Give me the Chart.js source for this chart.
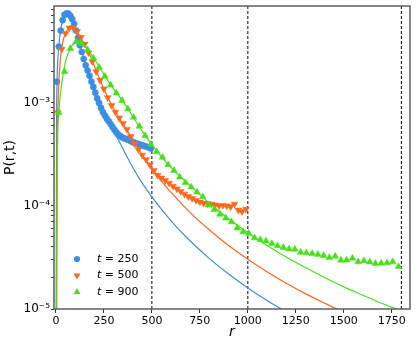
<!DOCTYPE html>
<html>
<head>
<meta charset="utf-8">
<script src="https://cdn.jsdelivr.net/npm/chart.js@4.4.1/dist/chart.umd.min.js"></script>
<style>
  html, body { margin: 0; padding: 0; background: #fff; }
  canvas { display: block; }
</style>
</head>
<body>
<canvas id="chart" width="417" height="349"></canvas>
<script>
"use strict";

// measured points, t = 250
const markR250 = [5, 15, 25, 35, 45, 55, 65, 75, 85, 95, 105, 115, 125, 135, 145, 155, 165, 175, 185, 195,
    205, 215, 225, 235, 245, 255, 265, 275, 285, 295, 305, 315, 325, 335, 345, 355, 365, 375, 385, 395,
    405, 415, 425, 435, 445, 455, 465, 475, 485, 495];
const markP250 = [1.6e-3, 3.5e-3, 5.0e-3, 6.3e-3, 7.1e-3, 7.35e-3, 7.3e-3, 6.95e-3, 6.45e-3, 5.8e-3,
    5.0e-3, 4.25e-3, 3.6e-3, 3.1e-3, 2.65e-3, 2.3e-3, 2.05e-3, 1.82e-3, 1.6e-3, 1.42e-3,
    1.25e-3, 1.1e-3, 9.9e-4, 8.9e-4, 8.1e-4, 7.5e-4, 7.0e-4, 6.6e-4, 6.2e-4, 5.8e-4,
    5.45e-4, 5.15e-4, 4.9e-4, 4.75e-4, 4.62e-4, 4.52e-4, 4.45e-4, 4.38e-4, 4.3e-4, 4.2e-4,
    4.12e-4, 4.05e-4, 4.0e-4, 3.94e-4, 3.88e-4, 3.83e-4, 3.78e-4, 3.73e-4, 3.68e-4, 3.6e-4];

// measured points, t = 500
const markR500 = [10, 30, 50, 70, 90, 110, 130, 150, 170, 190, 210, 230, 250, 270, 290, 310, 330, 350, 370, 390,
    410, 430, 450, 470, 490, 510, 530, 550, 570, 590, 610, 630, 650, 670, 690, 710, 730, 750, 770, 790,
    810, 830, 850, 870, 890, 910, 930, 950, 970, 990];
const markP500 = [8e-4, 3.3e-3, 4.7e-3, 5.3e-3, 5.35e-3, 4.9e-3, 4.3e-3, 3.7e-3, 3.05e-3, 2.5e-3,
    2.0e-3, 1.65e-3, 1.36e-3, 1.12e-3, 9.4e-4, 8.1e-4, 7.1e-4, 6.3e-4, 5.5e-4, 4.7e-4,
    4.0e-4, 3.5e-4, 3.1e-4, 2.8e-4, 2.5e-4, 2.2e-4, 1.98e-4, 1.86e-4, 1.76e-4, 1.66e-4,
    1.55e-4, 1.46e-4, 1.38e-4, 1.3e-4, 1.23e-4, 1.18e-4, 1.13e-4, 1.09e-4, 1.06e-4, 1.05e-4,
    1.04e-4, 1.02e-4, 1.0e-4, 1.01e-4, 1.0e-4, 9.8e-5, 1.04e-4, 9.1e-5, 8.8e-5, 9.3e-5];

// measured points, t = 900
const markR900 = [15, 45, 75, 105, 135, 165, 195, 225, 255, 285, 315, 345, 375, 405, 435, 465, 495, 525, 555, 585,
    615, 645, 675, 705, 735, 765, 795, 825, 855, 885, 915, 945, 975, 1005, 1035, 1065, 1095, 1125, 1155, 1185,
    1215, 1245, 1275, 1305, 1335, 1365, 1395, 1425, 1455, 1485, 1515, 1545, 1575, 1605, 1635, 1665, 1695, 1725, 1755, 1785];
const markP900 = [8.0e-4, 2.0e-3, 3.35e-3, 3.9e-3, 3.75e-3, 3.25e-3, 2.7e-3, 2.2e-3, 1.8e-3, 1.48e-3,
    1.24e-3, 1.05e-3, 8.7e-4, 7.2e-4, 5.9e-4, 4.8e-4, 3.95e-4, 3.35e-4, 2.95e-4, 2.5e-4,
    2.2e-4, 1.9e-4, 1.68e-4, 1.52e-4, 1.36e-4, 1.22e-4, 1.02e-4, 9.2e-5, 8.3e-5, 7.6e-5,
    7.0e-5, 6.1e-5, 5.6e-5, 5.4e-5, 4.9e-5, 4.7e-5, 4.55e-5, 4.3e-5, 4.1e-5, 3.95e-5,
    3.82e-5, 3.8e-5, 3.55e-5, 3.5e-5, 3.45e-5, 3.38e-5, 3.3e-5, 3.15e-5, 3.25e-5, 2.97e-5,
    2.98e-5, 3.1e-5, 2.87e-5, 2.93e-5, 2.85e-5, 2.76e-5, 2.78e-5, 2.8e-5, 2.86e-5, 2.58e-5];

// fitted curves
const fitR250 = [1, 3, 6, 12, 20, 30, 42, 55, 70, 85, 100, 120, 140, 160, 180, 200, 230, 260, 280, 300,
    330, 360, 400, 450, 500, 600, 700, 800, 900, 1000, 1100, 1200, 1300];
const fitP250 = [1e-6, 4e-4, 1.6e-3, 3.0e-3, 4.3e-3, 5.7e-3, 6.9e-3, 7.35e-3, 7.1e-3, 6.4e-3,
    5.4e-3, 4.0e-3, 2.9e-3, 2.2e-3, 1.72e-3, 1.35e-3, 9.8e-4, 7.5e-4, 6.34e-4, 5.37e-4,
    4.19e-4, 3.27e-4, 2.37e-4, 1.66e-4, 1.22e-4, 7.16e-5, 4.56e-5, 3.08e-5, 2.18e-5, 1.6e-5,
    1.21e-5, 9.4e-6, 7.4e-6];
const fitR500 = [1, 5, 10, 20, 35, 55, 75, 95, 120, 150, 180, 210, 250, 300, 350, 400, 450, 500, 550, 600,
    700, 800, 900, 1000, 1100, 1200, 1300, 1400, 1500, 1600];
const fitP500 = [1e-6, 2e-4, 8e-4, 2.2e-3, 3.8e-3, 4.9e-3, 5.35e-3, 5.3e-3, 4.6e-3, 3.65e-3,
    2.8e-3, 2.05e-3, 1.36e-3, 8.8e-4, 6.2e-4, 4.4e-4, 3.13e-4, 2.3e-4, 1.74e-4, 1.35e-4,
    8.6e-5, 5.83e-5, 4.13e-5, 3.04e-5, 2.3e-5, 1.78e-5, 1.41e-5, 1.14e-5, 9.3e-6, 7.7e-6];
const fitR900 = [1, 4, 8, 15, 30, 50, 75, 100, 120, 150, 200, 250, 300, 350, 400, 450, 500, 600, 700, 800,
    900, 1000, 1100, 1200, 1300, 1400, 1500, 1600, 1700, 1800, 1900];
const fitP900 = [1e-6, 1e-5, 3e-4, 8e-4, 1.5e-3, 2.5e-3, 3.35e-3, 3.85e-3, 3.95e-3, 3.55e-3,
    2.65e-3, 1.88e-3, 1.36e-3, 1.03e-3, 7.35e-4, 5.3e-4, 3.9e-4, 2.35e-4, 1.57e-4, 1.06e-4,
    7.5e-5, 5.48e-5, 4.13e-5, 3.19e-5, 2.52e-5, 2.02e-5, 1.64e-5, 1.36e-5, 1.13e-5, 9.6e-6, 8.1e-6];

const times = [250, 500, 900];
const cutoffs = [500, 1000, 1800];
const xTicks = [0, 250, 500, 750, 1000, 1250, 1500, 1750];
const yMajorTicks = [1e-5, 1e-4, 1e-3];
const yMajorLabels = ["10\u207B\u2075", "10\u207B\u2074", "10\u207B\u00B3"];

const colors = ["#3a8ee6", "#ff661c", "#46e01a"];
const markerShapes = ["circle", "down", "up"];
const FONT = "DejaVu Sans";
const Y_MIN = 1e-5, Y_MAX = 8.65e-3;

function pts(xs, ys) {
    return xs.map(function (x, i) { return {x: x, y: ys[i]}; });
}

// minor ticks 2..9 in every decade
var yTickValues = [];
yMajorTicks.forEach(function (m) {
    for (var k = 1; k <= 9; k++) {
        if (m * k <= Y_MAX) { yTickValues.push(m * k); }
    }
});

var markSets = [[markR250, markP250], [markR500, markP500], [markR900, markP900]];
var fitSets = [[fitR250, fitP250], [fitR500, fitP500], [fitR900, fitP900]];

var datasets = [];
cutoffs.forEach(function (c) {
    datasets.push({
        data: [{x: c, y: Y_MIN}, {x: c, y: Y_MAX}],
        showLine: true, borderColor: "#000", borderWidth: 1, borderDash: [3, 2],
        pointRadius: 0, order: 20
    });
});
times.forEach(function (t, i) {
    var shape = markerShapes[i];
    datasets.push({
        label: "t = " + t,
        data: pts(markSets[i][0], markSets[i][1]),
        backgroundColor: colors[i], borderColor: colors[i], borderWidth: 0.5,
        pointStyle: shape === "circle" ? "circle" : "triangle",
        pointRotation: shape === "down" ? 180 : 0,
        pointRadius: shape === "circle" ? 3.1 : 3.9,
        order: 10 - 2 * i
    });
    datasets.push({
        data: pts(fitSets[i][0], fitSets[i][1]),
        showLine: true, borderColor: colors[i], borderWidth: 1.2,
        cubicInterpolationMode: "monotone", pointRadius: 0,
        order: 9 - 2 * i
    });
});

function drawMarker(ctx, shape, x, y, r) {
    ctx.beginPath();
    if (shape === "circle") {
        ctx.arc(x, y, r, 0, Math.PI * 2);
    } else {
        var s = shape === "down" ? -1 : 1;
        ctx.moveTo(x, y - s * r);
        ctx.lineTo(x + r * 0.866, y + s * r * 0.5);
        ctx.lineTo(x - r * 0.866, y + s * r * 0.5);
        ctx.closePath();
    }
    ctx.fill();
}

// axes frame on all four sides
var framePlugin = {
    id: "frame",
    afterDatasetsDraw: function (chart) {
        var a = chart.chartArea, ctx = chart.ctx;
        ctx.save();
        ctx.strokeStyle = "#5a5e66";
        ctx.lineWidth = 1.5;
        ctx.strokeRect(a.left, a.top, a.right - a.left, a.bottom - a.top);
        ctx.restore();
    }
};

// legend with italic t, like mathtext
var legendPlugin = {
    id: "mathLegend",
    afterDraw: function (chart) {
        var a = chart.chartArea, ctx = chart.ctx;
        ctx.save();
        times.forEach(function (t, i) {
            var y = a.bottom - 50 + i * 16.5;
            ctx.fillStyle = colors[i];
            drawMarker(ctx, markerShapes[i], a.left + 23, y, markerShapes[i] === "circle" ? 3.1 : 3.9);
            ctx.fillStyle = "#000";
            ctx.textBaseline = "middle";
            ctx.textAlign = "left";
            var x = a.left + 43;
            ctx.font = "italic 11px '" + FONT + "'";
            ctx.fillText("t", x, y);
            x += ctx.measureText("t").width;
            ctx.font = "11px '" + FONT + "'";
            ctx.fillText(" = " + t, x, y);
        });
        ctx.restore();
    }
};

new Chart(document.getElementById("chart").getContext("2d"), {
    type: "scatter",
    data: {datasets: datasets},
    plugins: [framePlugin, legendPlugin],
    options: {
        responsive: false,
        animation: false,
        devicePixelRatio: 1,
        layout: {padding: {top: 5, right: 7, left: 0, bottom: 0}},
        plugins: {legend: {display: false}, tooltip: {enabled: false}},
        scales: {
            x: {
                type: "linear", min: -10, max: 1845,
                afterBuildTicks: function (s) { s.ticks = xTicks.map(function (v) { return {value: v}; }); },
                afterFit: function (s) { s.height = 40; },
                ticks: {
                    callback: function (v) { return String(v); },
                    autoSkip: false, maxRotation: 0, padding: 2, color: "#000",
                    font: {family: FONT, size: 11}
                },
                grid: {drawOnChartArea: false, tickLength: 4, color: "#333"},
                border: {display: false},
                title: {
                    display: true, text: "r", color: "#000",
                    font: {family: FONT, size: 14, style: "italic"},
                    padding: {top: 0, bottom: 8}
                }
            },
            y: {
                type: "logarithmic", min: Y_MIN, max: Y_MAX,
                afterBuildTicks: function (s) { s.ticks = yTickValues.map(function (v) { return {value: v}; }); },
                afterFit: function (s) { s.width = 54; },
                ticks: {
                    callback: function (v) {
                        var k = yMajorTicks.findIndex(function (m) { return Math.abs(m - v) / m < 1e-6; });
                        return k >= 0 ? yMajorLabels[k] : "";
                    },
                    autoSkip: false, padding: 1, color: "#000",
                    font: {family: FONT, size: 12, lineHeight: "10px"}
                },
                grid: {drawOnChartArea: false, tickLength: 3, color: "#333"},
                border: {display: false},
                title: {
                    display: true, text: "P(r,t)", color: "#000",
                    font: {family: FONT, size: 14},
                    padding: {top: 2, bottom: 0}
                }
            }
        }
    }
});
</script>
</body>
</html>
